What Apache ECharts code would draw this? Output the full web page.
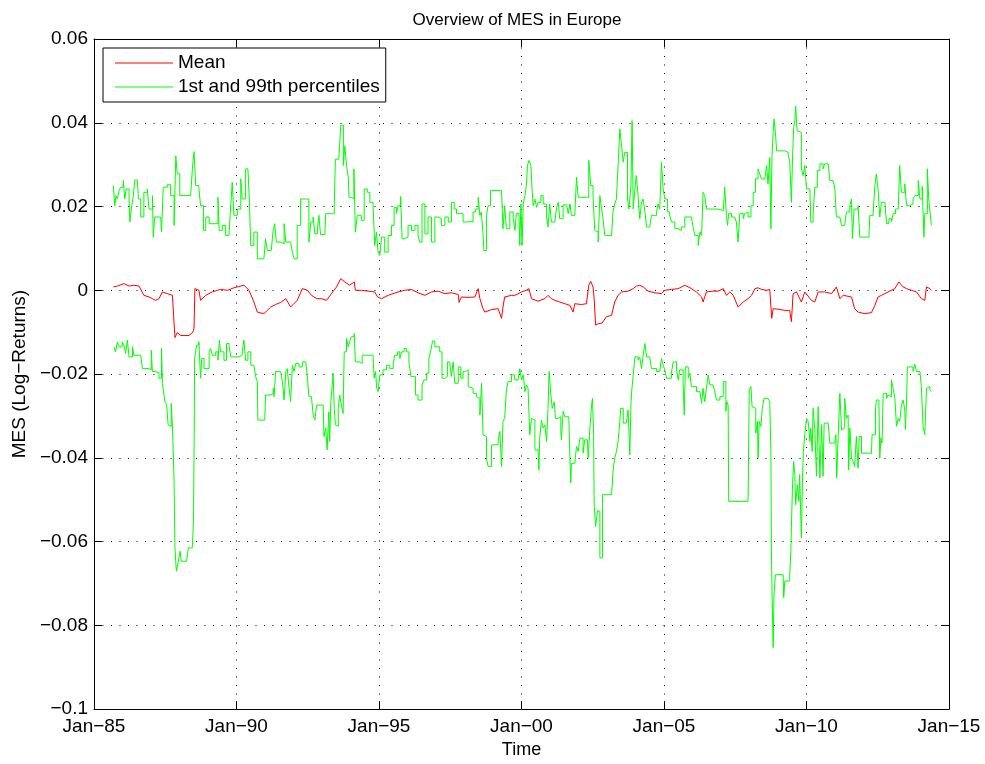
<!DOCTYPE html>
<html>
<head>
<meta charset="utf-8">
<script src="https://cdn.jsdelivr.net/npm/echarts@6/dist/echarts.min.js"></script>
<style>html,body{margin:0;padding:0;background:#fff}#c{width:985px;height:764px}</style>
</head>
<body>
<div id="c"></div>
<script>
const titleText = 'Overview of MES in Europe';
const legendNames = ['Mean', '1st and 99th percentiles'];
const xTickYears = [1985, 1990, 1995, 2000, 2005, 2010, 2015];
const xTickLabels = ['Jan\u221285', 'Jan\u221290', 'Jan\u221295', 'Jan\u221200', 'Jan\u221205', 'Jan\u221210', 'Jan\u221215'];
const yTickValues = [-0.1, -0.08, -0.06, -0.04, -0.02, 0, 0.02, 0.04, 0.06];

// [decimal year, MES]
const meanMES = [
[1985.68,0.0008],[1985.82,0.0010],[1986.05,0.0016],[1986.23,0.0010],[1986.40,0.0012],[1986.58,0.0010],[1986.75,-0.0012],[1986.93,-0.0016],[1987.05,-0.0020],[1987.16,-0.0024],[1987.28,-0.0020],[1987.40,-0.0004],[1987.57,-0.0008],[1987.75,-0.0012],[1987.84,-0.0113],[1987.92,-0.0101],[1988.04,-0.0108],[1988.33,-0.0108],[1988.47,-0.0100],[1988.51,-0.0090],[1988.54,0.0004],[1988.68,0.0000],[1988.74,-0.0024],[1988.92,-0.0012],[1989.15,-0.0004],[1989.33,0.0000],[1989.44,0.0002],[1989.68,0.0000],[1989.91,0.0006],[1990.26,0.0012],[1990.44,0.0000],[1990.61,-0.0028],[1990.73,-0.0052],[1990.96,-0.0056],[1991.20,-0.0040],[1991.37,-0.0034],[1991.55,-0.0029],[1991.73,-0.0020],[1991.90,-0.0040],[1992.13,-0.0024],[1992.31,0.0004],[1992.49,0.0000],[1992.63,-0.0012],[1992.81,-0.0020],[1992.98,-0.0020],[1993.16,-0.0024],[1993.33,-0.0008],[1993.51,0.0008],[1993.66,0.0028],[1993.80,0.0020],[1993.97,0.0012],[1994.13,0.0020],[1994.17,0.0000],[1994.38,0.0000],[1994.62,-0.0002],[1994.85,-0.0004],[1994.95,-0.0016],[1995.09,-0.0020],[1995.32,-0.0012],[1995.67,-0.0004],[1995.90,0.0000],[1996.14,0.0002],[1996.37,-0.0006],[1996.61,-0.0012],[1996.84,-0.0004],[1997.07,-0.0002],[1997.31,-0.0008],[1997.54,-0.0006],[1997.78,-0.0010],[1997.81,-0.0029],[1997.89,-0.0016],[1998.13,-0.0017],[1998.36,-0.0016],[1998.48,0.0004],[1998.54,-0.0020],[1998.65,-0.0044],[1998.71,-0.0052],[1998.95,-0.0046],[1999.18,-0.0044],[1999.30,-0.0067],[1999.35,-0.0040],[1999.41,-0.0016],[1999.65,-0.0012],[1999.77,-0.0012],[2000.00,-0.0004],[2000.17,0.0000],[2000.26,0.0004],[2000.35,-0.0020],[2000.58,-0.0026],[2000.82,-0.0020],[2000.93,-0.0012],[2001.05,-0.0020],[2001.17,-0.0024],[2001.34,-0.0028],[2001.52,-0.0032],[2001.70,-0.0036],[2001.81,-0.0052],[2001.87,-0.0032],[2002.10,-0.0034],[2002.28,-0.0032],[2002.36,0.0012],[2002.43,0.0021],[2002.51,0.0008],[2002.55,-0.0020],[2002.60,-0.0083],[2002.69,-0.0080],[2002.83,-0.0078],[2002.98,-0.0063],[2003.16,-0.0060],[2003.27,-0.0028],[2003.39,-0.0012],[2003.51,-0.0004],[2003.74,-0.0002],[2003.92,0.0004],[2004.03,0.0010],[2004.15,0.0012],[2004.27,0.0008],[2004.44,-0.0002],[2004.68,-0.0006],[2004.91,-0.0008],[2005.03,0.0000],[2005.26,0.0002],[2005.50,0.0004],[2005.73,0.0012],[2005.91,0.0006],[2006.14,-0.0004],[2006.32,-0.0016],[2006.37,-0.0028],[2006.49,-0.0004],[2006.72,-0.0002],[2006.90,-0.0002],[2007.08,0.0004],[2007.19,-0.0012],[2007.31,-0.0004],[2007.43,-0.0012],[2007.60,-0.0040],[2007.78,-0.0028],[2007.95,-0.0020],[2008.07,-0.0012],[2008.19,0.0004],[2008.30,0.0006],[2008.42,0.0002],[2008.60,0.0000],[2008.71,0.0002],[2008.78,-0.0067],[2008.83,-0.0044],[2009.00,-0.0045],[2009.24,-0.0048],[2009.41,-0.0048],[2009.47,-0.0075],[2009.53,-0.0008],[2009.65,-0.0004],[2009.82,-0.0028],[2009.94,-0.0004],[2010.17,-0.0024],[2010.29,-0.0028],[2010.41,-0.0004],[2010.64,-0.0004],[2010.88,-0.0008],[2011.05,0.0008],[2011.17,-0.0020],[2011.29,-0.0012],[2011.58,-0.0016],[2011.69,-0.0044],[2011.81,-0.0052],[2012.05,-0.0056],[2012.28,-0.0053],[2012.40,-0.0036],[2012.51,-0.0016],[2012.63,-0.0012],[2012.86,-0.0004],[2013.10,0.0004],[2013.24,0.0020],[2013.39,0.0008],[2013.51,0.0004],[2013.68,0.0000],[2013.86,-0.0004],[2014.03,-0.0020],[2014.15,-0.0024],[2014.21,0.0008],[2014.33,0.0004],[2014.38,0.0000]
];

const upperPct = [
[1985.68,0.0250],[1985.73,0.0202],[1985.77,0.0226],[1985.82,0.0218],[1985.88,0.0238],[1985.94,0.0246],[1986.03,0.0262],[1986.08,0.0218],[1986.13,0.0242],[1986.23,0.0218],[1986.26,0.0163],[1986.31,0.0194],[1986.38,0.0226],[1986.43,0.0263],[1986.52,0.0262],[1986.56,0.0218],[1986.64,0.0175],[1986.75,0.0234],[1986.87,0.0242],[1986.93,0.0194],[1987.05,0.0226],[1987.08,0.0127],[1987.13,0.0175],[1987.34,0.0175],[1987.37,0.0139],[1987.43,0.0246],[1987.57,0.0252],[1987.69,0.0226],[1987.81,0.0155],[1987.87,0.0321],[1987.92,0.0278],[1988.01,0.0226],[1988.39,0.0222],[1988.46,0.0298],[1988.51,0.0331],[1988.57,0.0250],[1988.68,0.0242],[1988.74,0.0202],[1988.84,0.0143],[1988.92,0.0175],[1989.04,0.0159],[1989.21,0.0159],[1989.35,0.0222],[1989.39,0.0143],[1989.50,0.0155],[1989.62,0.0131],[1989.74,0.0139],[1989.80,0.0202],[1989.85,0.0258],[1989.91,0.0179],[1990.03,0.0194],[1990.15,0.0266],[1990.20,0.0218],[1990.32,0.0290],[1990.40,0.0290],[1990.45,0.0218],[1990.50,0.0107],[1990.61,0.0139],[1990.73,0.0075],[1990.96,0.0075],[1991.02,0.0123],[1991.08,0.0095],[1991.22,0.0095],[1991.28,0.0139],[1991.34,0.0159],[1991.40,0.0115],[1991.55,0.0111],[1991.67,0.0159],[1991.73,0.0115],[1991.90,0.0115],[1991.96,0.0091],[1992.02,0.0075],[1992.13,0.0155],[1992.25,0.0218],[1992.43,0.0218],
[1992.54,0.0115],[1992.61,0.0163],[1992.69,0.0175],[1992.75,0.0135],[1992.84,0.0147],[1992.89,0.0179],[1992.95,0.0133],[1993.10,0.0133],[1993.13,0.0183],[1993.33,0.0183],[1993.43,0.0206],[1993.47,0.0313],[1993.59,0.0313],[1993.66,0.0394],[1993.72,0.0394],[1993.75,0.0298],[1993.80,0.0345],[1993.86,0.0298],[1993.92,0.0270],[1993.95,0.0222],[1994.03,0.0218],[1994.12,0.0290],[1994.17,0.0139],[1994.24,0.0179],[1994.38,0.0167],[1994.48,0.0242],[1994.59,0.0234],[1994.68,0.0210],[1994.79,0.0214],[1994.85,0.0107],[1994.91,0.0139],[1994.97,0.0091],[1995.03,0.0083],[1995.09,0.0127],[1995.20,0.0091],[1995.32,0.0131],[1995.44,0.0155],[1995.53,0.0198],[1995.61,0.0183],[1995.67,0.0202],[1995.76,0.0224],[1995.81,0.0123],[1995.90,0.0127],[1996.02,0.0155],[1996.14,0.0143],[1996.26,0.0155],[1996.37,0.0131],[1996.43,0.0115],[1996.51,0.0206],[1996.61,0.0135],[1996.72,0.0175],[1996.84,0.0115],[1996.96,0.0175],[1997.07,0.0171],[1997.19,0.0155],[1997.31,0.0175],[1997.43,0.0163],[1997.54,0.0210],[1997.64,0.0194],[1997.72,0.0183],[1997.83,0.0183],[1997.95,0.0163],[1998.07,0.0164],[1998.19,0.0163],[1998.30,0.0187],[1998.38,0.0194],[1998.48,0.0222],[1998.54,0.0179],[1998.59,0.0187],[1998.65,0.0135],[1998.68,0.0095],[1998.77,0.0179],[1998.83,0.0202],[1998.91,0.0238],[1999.30,0.0234],[1999.35,0.0147],[1999.41,0.0202],[1999.47,0.0147],[1999.59,0.0187],[1999.71,0.0171],
[1999.77,0.0143],[1999.82,0.0183],[1999.91,0.0183],[1999.94,0.0107],[1999.98,0.0206],[2000.02,0.0107],[2000.06,0.0206],[2000.12,0.0226],[2000.17,0.0250],[2000.21,0.0298],[2000.26,0.0310],[2000.33,0.0298],[2000.37,0.0242],[2000.41,0.0202],[2000.47,0.0218],[2000.53,0.0198],[2000.58,0.0210],[2000.68,0.0226],[2000.76,0.0206],[2000.88,0.0175],[2000.93,0.0151],[2000.99,0.0206],[2001.05,0.0163],[2001.17,0.0167],[2001.23,0.0198],[2001.29,0.0210],[2001.34,0.0171],[2001.46,0.0204],[2001.58,0.0202],[2001.64,0.0183],[2001.70,0.0206],[2001.75,0.0179],[2001.87,0.0183],[2001.93,0.0270],[2001.99,0.0222],[2002.28,0.0222],[2002.36,0.0310],[2002.43,0.0250],[2002.51,0.0226],[2002.57,0.0143],[2002.63,0.0139],[2002.69,0.0115],[2002.75,0.0226],[2002.81,0.0194],[2002.86,0.0171],[2002.92,0.0131],[2003.16,0.0131],[2003.21,0.0187],[2003.27,0.0206],[2003.33,0.0218],[2003.39,0.0298],[2003.45,0.0385],[2003.51,0.0345],[2003.57,0.0306],[2003.62,0.0329],[2003.72,0.0218],[2003.77,0.0194],[2003.84,0.0250],[2003.88,0.0405],[2003.92,0.0194],[2003.98,0.0242],[2004.03,0.0274],[2004.09,0.0226],[2004.15,0.0171],[2004.21,0.0210],[2004.27,0.0218],[2004.33,0.0187],[2004.39,0.0151],[2004.50,0.0151],[2004.56,0.0179],[2004.74,0.0187],[2004.79,0.0206],[2004.85,0.0194],[2004.91,0.0306],[2004.97,0.0242],[2005.03,0.0218],[2005.12,0.0187],[2005.20,0.0179],[2005.26,0.0163],[2005.38,0.0147],[2005.50,0.0143],[2005.61,0.0151],[2005.73,0.0175],[2005.96,0.0175],[2006.02,0.0151],[2006.08,0.0131],[2006.20,0.0107],[2006.26,0.0139],[2006.32,0.0131],[2006.37,0.0234],[2006.43,0.0226],[2006.49,0.0194],[2006.90,0.0190],[2007.08,0.0187],[2007.13,0.0246],
[2007.19,0.0179],[2007.23,0.0155],[2007.27,0.0183],[2007.37,0.0175],[2007.48,0.0171],[2007.54,0.0163],[2007.60,0.0115],[2007.66,0.0183],[2007.78,0.0171],[2007.83,0.0183],[2007.89,0.0187],[2007.95,0.0175],[2008.05,0.0202],[2008.13,0.0234],[2008.21,0.0266],[2008.30,0.0290],[2008.36,0.0278],[2008.42,0.0266],[2008.54,0.0262],[2008.60,0.0298],[2008.65,0.0254],[2008.71,0.0317],[2008.75,0.0147],[2008.79,0.0321],[2008.83,0.0377],[2008.86,0.0409],[2008.91,0.0377],[2008.95,0.0333],[2009.24,0.0329],[2009.36,0.0321],[2009.41,0.0310],[2009.47,0.0210],[2009.51,0.0317],[2009.55,0.0389],[2009.59,0.0405],[2009.62,0.0440],[2009.67,0.0381],[2009.73,0.0377],[2009.82,0.0290],[2009.88,0.0274],[2009.94,0.0298],[2010.00,0.0242],[2010.12,0.0242],[2010.15,0.0163],[2010.23,0.0179],[2010.29,0.0246],[2010.38,0.0286],[2010.47,0.0302],[2010.58,0.0290],[2010.64,0.0302],[2010.76,0.0302],[2010.82,0.0262],[2010.93,0.0262],[2010.99,0.0246],[2011.05,0.0175],[2011.17,0.0175],[2011.23,0.0155],[2011.34,0.0159],[2011.40,0.0187],[2011.52,0.0202],[2011.58,0.0218],[2011.61,0.0123],[2011.67,0.0194],[2011.81,0.0202],[2011.87,0.0127],[2012.19,0.0129],[2012.22,0.0179],[2012.34,0.0187],[2012.40,0.0250],[2012.45,0.0278],[2012.51,0.0242],[2012.57,0.0175],[2012.63,0.0210],[2012.75,0.0214],[2012.81,0.0159],[2012.89,0.0171],[2012.98,0.0163],[2013.04,0.0183],[2013.12,0.0194],[2013.22,0.0198],[2013.27,0.0298],[2013.33,0.0234],[2013.45,0.0254],[2013.51,0.0202],[2013.62,0.0206],[2013.74,0.0218],[2013.80,0.0226],[2013.92,0.0262],[2013.98,0.0218],[2014.06,0.0248],[2014.12,0.0127],[2014.15,0.0183],[2014.24,0.0290],[2014.29,0.0218],[2014.36,0.0214],[2014.38,0.0155]
];

const lowerPct = [
[1985.70,-0.0135],[1985.76,-0.0147],[1985.82,-0.0123],[1985.88,-0.0135],[1985.99,-0.0123],[1986.05,-0.0131],[1986.11,-0.0151],[1986.17,-0.0119],[1986.23,-0.0159],[1986.35,-0.0135],[1986.40,-0.0155],[1986.64,-0.0159],[1986.70,-0.0187],[1986.93,-0.0190],[1987.01,-0.0143],[1987.05,-0.0194],[1987.16,-0.0198],[1987.28,-0.0210],[1987.37,-0.0139],[1987.40,-0.0222],[1987.43,-0.0238],[1987.49,-0.0266],[1987.55,-0.0274],[1987.60,-0.0321],[1987.67,-0.0325],[1987.71,-0.0270],[1987.75,-0.0321],[1987.78,-0.0385],[1987.81,-0.0456],[1987.84,-0.0615],[1987.89,-0.0671],[1987.95,-0.0651],[1988.02,-0.0623],[1988.06,-0.0647],[1988.25,-0.0647],[1988.31,-0.0615],[1988.45,-0.0611],[1988.49,-0.0552],[1988.51,-0.0401],[1988.53,-0.0163],[1988.60,-0.0131],[1988.68,-0.0123],[1988.74,-0.0210],[1988.78,-0.0163],[1988.86,-0.0187],[1989.04,-0.0147],[1989.09,-0.0139],[1989.15,-0.0155],[1989.27,-0.0147],[1989.35,-0.0167],[1989.40,-0.0119],[1989.44,-0.0147],[1989.56,-0.0167],[1989.65,-0.0127],[1989.74,-0.0135],[1989.80,-0.0159],[1989.97,-0.0159],[1990.09,-0.0155],[1990.20,-0.0147],[1990.26,-0.0119],[1990.32,-0.0167],[1990.40,-0.0147],[1990.50,-0.0179],[1990.61,-0.0183],[1990.67,-0.0206],[1990.73,-0.0218],[1990.75,-0.0310],[1990.99,-0.0310],[1991.02,-0.0250],[1991.20,-0.0246],[1991.29,-0.0234],[1991.32,-0.0254],[1991.37,-0.0194],[1991.55,-0.0194],[1991.61,-0.0218],[1991.67,-0.0262],[1991.73,-0.0194],[1991.78,-0.0187],[1991.84,-0.0230],[1991.90,-0.0266],[1991.96,-0.0179],[1992.02,-0.0194],[1992.08,-0.0175],[1992.19,-0.0183],[1992.31,-0.0171],[1992.43,-0.0171],[1992.49,-0.0210],
[1992.54,-0.0254],[1992.63,-0.0258],[1992.69,-0.0298],[1992.75,-0.0310],[1992.81,-0.0274],[1993.04,-0.0274],[1993.07,-0.0349],[1993.13,-0.0329],[1993.18,-0.0381],[1993.24,-0.0290],[1993.27,-0.0361],[1993.31,-0.0266],[1993.36,-0.0226],[1993.39,-0.0198],[1993.43,-0.0282],[1993.47,-0.0321],[1993.51,-0.0325],[1993.57,-0.0282],[1993.62,-0.0250],[1993.68,-0.0274],[1993.74,-0.0294],[1993.78,-0.0147],[1993.86,-0.0115],[1993.92,-0.0135],[1993.97,-0.0123],[1994.03,-0.0111],[1994.13,-0.0103],[1994.17,-0.0171],[1994.33,-0.0175],[1994.41,-0.0155],[1994.79,-0.0155],[1994.83,-0.0210],[1994.88,-0.0194],[1994.92,-0.0234],[1994.97,-0.0242],[1995.03,-0.0202],[1995.14,-0.0190],[1995.26,-0.0179],[1995.38,-0.0187],[1995.50,-0.0175],[1995.55,-0.0155],[1995.65,-0.0147],[1995.73,-0.0163],[1995.79,-0.0147],[1995.88,-0.0139],[1995.96,-0.0147],[1996.05,-0.0171],[1996.12,-0.0206],[1996.20,-0.0206],[1996.28,-0.0250],[1996.37,-0.0262],[1996.43,-0.0262],[1996.51,-0.0226],[1996.58,-0.0214],[1996.67,-0.0198],[1996.75,-0.0163],[1996.82,-0.0143],[1996.88,-0.0121],[1996.96,-0.0135],[1997.13,-0.0147],[1997.21,-0.0210],[1997.31,-0.0206],[1997.40,-0.0171],[1997.48,-0.0167],[1997.54,-0.0206],[1997.60,-0.0171],[1997.66,-0.0222],[1997.78,-0.0183],[1997.87,-0.0210],[1997.95,-0.0194],[1998.03,-0.0190],[1998.13,-0.0230],[1998.19,-0.0234],[1998.30,-0.0246],[1998.42,-0.0254],[1998.48,-0.0258],[1998.54,-0.0298],[1998.60,-0.0222],[1998.65,-0.0345],[1998.71,-0.0349],[1998.77,-0.0401],[1998.83,-0.0421],[1998.89,-0.0421],[1998.95,-0.0369],[1999.18,-0.0361],[1999.24,-0.0337],[1999.30,-0.0421],[1999.35,-0.0313],[1999.41,-0.0306],[1999.47,-0.0238],[1999.53,-0.0218],[1999.65,-0.0202],[1999.76,-0.0214],
[1999.88,-0.0214],[1999.94,-0.0187],[2000.00,-0.0214],[2000.06,-0.0202],[2000.12,-0.0242],[2000.17,-0.0226],[2000.23,-0.0234],[2000.29,-0.0345],[2000.35,-0.0306],[2000.41,-0.0310],[2000.47,-0.0381],[2000.58,-0.0381],[2000.61,-0.0429],[2000.64,-0.0353],[2000.70,-0.0310],[2000.76,-0.0329],[2000.82,-0.0321],[2000.88,-0.0361],[2000.93,-0.0282],[2000.97,-0.0194],[2001.03,-0.0250],[2001.08,-0.0282],[2001.15,-0.0266],[2001.19,-0.0306],[2001.29,-0.0302],[2001.38,-0.0337],[2001.40,-0.0357],[2001.46,-0.0289],[2001.52,-0.0302],[2001.66,-0.0302],[2001.70,-0.0401],[2001.73,-0.0460],[2001.75,-0.0413],[2001.87,-0.0409],[2001.93,-0.0373],[2001.99,-0.0385],[2002.05,-0.0353],[2002.16,-0.0389],[2002.22,-0.0357],[2002.31,-0.0357],[2002.34,-0.0401],[2002.40,-0.0329],[2002.46,-0.0274],[2002.49,-0.0258],[2002.53,-0.0341],[2002.55,-0.0512],[2002.60,-0.0564],[2002.67,-0.0526],[2002.71,-0.0528],[2002.75,-0.0639],[2002.81,-0.0639],[2002.84,-0.0488],[2003.16,-0.0488],[2003.22,-0.0425],[2003.27,-0.0401],[2003.33,-0.0385],[2003.39,-0.0361],[2003.45,-0.0313],[2003.48,-0.0282],[2003.57,-0.0317],[2003.68,-0.0313],[2003.74,-0.0286],[2003.80,-0.0393],[2003.84,-0.0274],[2003.86,-0.0246],[2003.92,-0.0202],[2003.98,-0.0159],[2004.09,-0.0167],[2004.15,-0.0159],[2004.21,-0.0187],[2004.27,-0.0155],[2004.33,-0.0127],[2004.39,-0.0159],[2004.50,-0.0163],[2004.56,-0.0187],[2004.74,-0.0194],[2004.85,-0.0198],[2004.91,-0.0163],[2004.97,-0.0179],[2005.03,-0.0190],[2005.09,-0.0210],[2005.26,-0.0198],[2005.32,-0.0171],[2005.44,-0.0190],[2005.50,-0.0214],[2005.55,-0.0190],[2005.67,-0.0222],[2005.71,-0.0298],[2005.75,-0.0183],[2005.85,-0.0210],[2005.91,-0.0198],[2005.96,-0.0230],[2006.14,-0.0242],[2006.26,-0.0246],[2006.32,-0.0270],[2006.37,-0.0234],[2006.43,-0.0266],[2006.49,-0.0234],[2006.55,-0.0202],[2006.61,-0.0226],[2006.72,-0.0226],[2006.78,-0.0242],[2006.84,-0.0262],[2006.96,-0.0254],[2007.08,-0.0218],
[2007.17,-0.0289],[2007.20,-0.0266],[2007.25,-0.0274],[2007.27,-0.0504],[2007.95,-0.0504],[2007.99,-0.0238],[2008.05,-0.0230],[2008.09,-0.0278],[2008.16,-0.0282],[2008.22,-0.0341],[2008.28,-0.0313],[2008.30,-0.0401],[2008.34,-0.0313],[2008.40,-0.0325],[2008.45,-0.0282],[2008.51,-0.0258],[2008.65,-0.0254],[2008.71,-0.0266],[2008.75,-0.0385],[2008.77,-0.0623],[2008.79,-0.0718],[2008.83,-0.0853],[2008.86,-0.0726],[2008.91,-0.0679],[2009.18,-0.0679],[2009.20,-0.0734],[2009.24,-0.0694],[2009.41,-0.0683],[2009.45,-0.0623],[2009.47,-0.0567],[2009.51,-0.0464],[2009.55,-0.0409],[2009.59,-0.0440],[2009.62,-0.0512],[2009.68,-0.0464],[2009.73,-0.0504],[2009.76,-0.0440],[2009.82,-0.0591],[2009.86,-0.0448],[2009.89,-0.0385],[2009.94,-0.0345],[2010.00,-0.0306],[2010.06,-0.0313],[2010.12,-0.0361],[2010.15,-0.0329],[2010.20,-0.0385],[2010.23,-0.0282],[2010.29,-0.0329],[2010.35,-0.0444],[2010.41,-0.0278],[2010.47,-0.0448],[2010.53,-0.0321],[2010.58,-0.0444],[2010.62,-0.0317],[2010.76,-0.0320],[2010.82,-0.0365],[2010.99,-0.0368],[2011.03,-0.0345],[2011.06,-0.0448],[2011.11,-0.0349],[2011.17,-0.0246],[2011.23,-0.0333],[2011.29,-0.0329],[2011.34,-0.0258],[2011.40,-0.0306],[2011.46,-0.0298],[2011.48,-0.0429],[2011.52,-0.0329],[2011.58,-0.0401],[2011.64,-0.0409],[2011.69,-0.0421],[2011.75,-0.0349],[2011.81,-0.0425],[2011.85,-0.0349],[2011.93,-0.0389],[2012.28,-0.0393],[2012.30,-0.0345],[2012.37,-0.0345],[2012.42,-0.0286],[2012.45,-0.0262],[2012.54,-0.0262],[2012.57,-0.0401],[2012.61,-0.0353],[2012.65,-0.0365],[2012.69,-0.0246],[2012.81,-0.0258],[2012.86,-0.0250],[2012.92,-0.0254],[2012.98,-0.0214],[2013.04,-0.0234],[2013.10,-0.0258],[2013.16,-0.0325],[2013.22,-0.0306],[2013.27,-0.0313],[2013.33,-0.0274],[2013.39,-0.0262],[2013.45,-0.0286],[2013.47,-0.0333],[2013.51,-0.0262],[2013.54,-0.0183],[2013.74,-0.0194],[2013.80,-0.0177],[2013.86,-0.0194],[2013.98,-0.0196],[2014.03,-0.0230],[2014.09,-0.0325],[2014.15,-0.0345],[2014.21,-0.0234],[2014.27,-0.0230],[2014.33,-0.0238],[2014.38,-0.0242]
];

const FONT = '"Liberation Sans", Arial, Helvetica, sans-serif';
const chart = echarts.init(document.getElementById('c'), null, {renderer: 'canvas'});

function xLabel(v) {
  const i = xTickYears.findIndex(y => Math.abs(y - v) < 1e-6);
  return i >= 0 ? xTickLabels[i] : '';
}
function yLabel(v) {
  const r = Math.round(v * 100) / 100;
  return String(r).replace('-', '\u2212');
}
const hiddenAxisCommon = {
  axisLine: {show: true, onZero: false, lineStyle: {color: '#000', width: 1}},
  axisTick: {show: true, inside: true, length: 8, lineStyle: {color: '#000'}},
  axisLabel: {show: false},
  splitLine: {show: false}
};

chart.setOption({
  animation: false,
  backgroundColor: '#fff',
  textStyle: {fontFamily: FONT},
  title: {
    text: titleText, left: 512, top: 7, textAlign: 'center',
    textStyle: {fontSize: 17, fontWeight: 'normal', color: '#000', fontFamily: FONT}
  },
  legend: {
    data: legendNames,
    orient: 'vertical',
    left: 103, top: 48,
    padding: [4, 6, 4, 12],
    itemGap: 2,
    itemWidth: 58, itemHeight: 1,
    icon: 'rect',
    backgroundColor: '#fff',
    borderColor: '#000', borderWidth: 1,
    textStyle: {fontSize: 19, color: '#000', lineHeight: 22, fontFamily: FONT},
    selectedMode: false
  },
  grid: {left: 94, right: 36, top: 39, bottom: 51},
  xAxis: [{
    type: 'value', min: xTickYears[0], max: xTickYears[xTickYears.length - 1], interval: 5,
    axisLine: {show: true, onZero: false, lineStyle: {color: '#000', width: 1}},
    axisTick: {show: true, inside: true, length: 8, lineStyle: {color: '#000'}},
    axisLabel: {formatter: xLabel, fontSize: 19, color: '#000', margin: 8, fontFamily: FONT},
    splitLine: {show: true, lineStyle: {color: '#000', width: 1, type: [1, 7.5]}},
    name: 'Time', nameLocation: 'middle', nameGap: 26,
    nameTextStyle: {fontSize: 18, color: '#000', fontFamily: FONT}
  }, Object.assign({type: 'value', position: 'top', min: xTickYears[0], max: xTickYears[xTickYears.length - 1], interval: 5}, hiddenAxisCommon)],
  yAxis: [{
    type: 'value', min: yTickValues[0], max: yTickValues[yTickValues.length - 1], interval: 0.02,
    axisLine: {show: true, onZero: false, lineStyle: {color: '#000', width: 1}},
    axisTick: {show: true, inside: true, length: 8, lineStyle: {color: '#000'}},
    axisLabel: {formatter: yLabel, fontSize: 19, color: '#000', margin: 6, fontFamily: FONT},
    splitLine: {show: true, lineStyle: {color: '#000', width: 1, type: [1, 7.5]}},
    name: 'MES (Log\u2212Returns)', nameLocation: 'middle', nameGap: 63, nameRotate: 90,
    nameTextStyle: {fontSize: 19, color: '#000', fontFamily: FONT}
  }, Object.assign({type: 'value', position: 'right', min: yTickValues[0], max: yTickValues[yTickValues.length - 1], interval: 0.02}, hiddenAxisCommon)],
  series: [
    {name: legendNames[0], type: 'line', data: meanMES, showSymbol: false, symbol: 'none',
     lineStyle: {color: '#ff0000', width: 1}, itemStyle: {color: '#ff0000'}, z: 4},
    {name: legendNames[1], type: 'line', data: upperPct, step: 'end', showSymbol: false, symbol: 'none',
     lineStyle: {color: '#00ff00', width: 1}, itemStyle: {color: '#00ff00'}, z: 3},
    {name: legendNames[1], type: 'line', data: lowerPct, step: 'end', showSymbol: false, symbol: 'none',
     lineStyle: {color: '#00ff00', width: 1}, itemStyle: {color: '#00ff00'}, z: 3}
  ]
});
</script>
</body>
</html>
